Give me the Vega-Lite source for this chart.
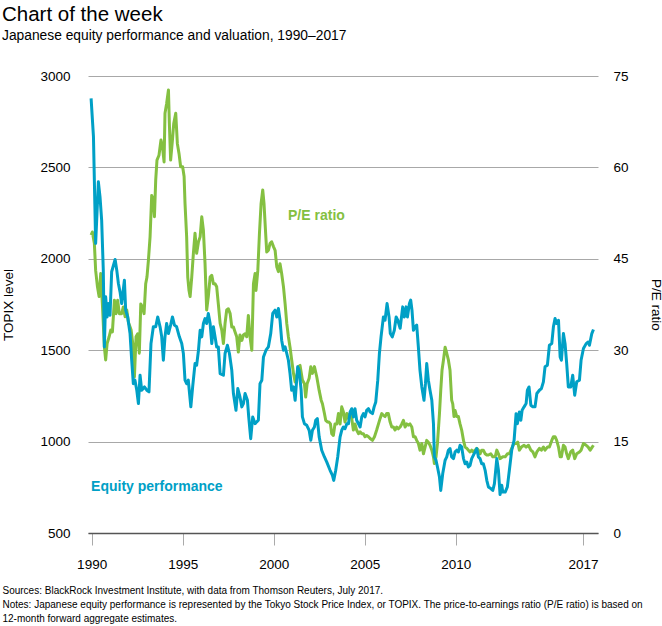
{
  "$schema": "https://vega.github.io/schema/vega-lite/v6.json",
  "width": 510,
  "height": 457,
  "autosize": {"type": "none"},
  "padding": {"left": 88, "top": 76, "right": 64, "bottom": 93},
  "background": "white",
  "config": {"font": "Liberation Sans", "view": {"stroke": null}},
  "title": {
    "text": "Chart of the week",
    "subtitle": "Japanese equity performance and valuation, 1990–2017",
    "anchor": "start",
    "frame": "group",
    "dx": -86,
    "fontSize": 20.5,
    "fontWeight": "normal",
    "color": "#000000",
    "subtitleFontSize": 13.8,
    "subtitleColor": "#000000",
    "subtitlePadding": 3.3,
    "offset": 26.6
  },
  "datasets": {
    "topix": [
      {"year": 1989.97, "value": 2878}, {"year": 1990.10, "value": 2668}, {"year": 1990.22, "value": 2084}, {"year": 1990.37, "value": 2421},
      {"year": 1990.46, "value": 2339}, {"year": 1990.55, "value": 2212}, {"year": 1990.64, "value": 1938}, {"year": 1990.70, "value": 1518},
      {"year": 1990.77, "value": 1792}, {"year": 1990.85, "value": 1682}, {"year": 1990.92, "value": 1755}, {"year": 1991.01, "value": 1691},
      {"year": 1991.10, "value": 1929}, {"year": 1991.29, "value": 1996}, {"year": 1991.38, "value": 1938}, {"year": 1991.47, "value": 1865},
      {"year": 1991.56, "value": 1819}, {"year": 1991.65, "value": 1755}, {"year": 1991.80, "value": 1883}, {"year": 1991.87, "value": 1719},
      {"year": 1991.98, "value": 1682}, {"year": 1992.11, "value": 1591}, {"year": 1992.20, "value": 1445}, {"year": 1992.29, "value": 1317},
      {"year": 1992.38, "value": 1336}, {"year": 1992.48, "value": 1281}, {"year": 1992.57, "value": 1208}, {"year": 1992.66, "value": 1363},
      {"year": 1992.75, "value": 1281}, {"year": 1992.90, "value": 1299}, {"year": 1993.03, "value": 1281}, {"year": 1993.15, "value": 1272},
      {"year": 1993.26, "value": 1536}, {"year": 1993.39, "value": 1628}, {"year": 1993.52, "value": 1628}, {"year": 1993.63, "value": 1682},
      {"year": 1993.76, "value": 1628}, {"year": 1993.85, "value": 1573}, {"year": 1993.94, "value": 1445}, {"year": 1994.03, "value": 1573},
      {"year": 1994.12, "value": 1646}, {"year": 1994.22, "value": 1591}, {"year": 1994.34, "value": 1637}, {"year": 1994.44, "value": 1682},
      {"year": 1994.55, "value": 1637}, {"year": 1994.67, "value": 1628}, {"year": 1994.82, "value": 1573}, {"year": 1994.95, "value": 1536},
      {"year": 1995.04, "value": 1482}, {"year": 1995.13, "value": 1336}, {"year": 1995.22, "value": 1317}, {"year": 1995.31, "value": 1336},
      {"year": 1995.38, "value": 1263}, {"year": 1995.45, "value": 1190}, {"year": 1995.55, "value": 1299}, {"year": 1995.68, "value": 1427},
      {"year": 1995.77, "value": 1418}, {"year": 1995.87, "value": 1500}, {"year": 1995.96, "value": 1609}, {"year": 1996.05, "value": 1573},
      {"year": 1996.14, "value": 1646}, {"year": 1996.23, "value": 1673}, {"year": 1996.32, "value": 1646}, {"year": 1996.41, "value": 1701},
      {"year": 1996.51, "value": 1646}, {"year": 1996.60, "value": 1536}, {"year": 1996.69, "value": 1628}, {"year": 1996.78, "value": 1573},
      {"year": 1996.87, "value": 1518}, {"year": 1996.96, "value": 1518}, {"year": 1997.06, "value": 1372}, {"year": 1997.24, "value": 1363},
      {"year": 1997.33, "value": 1482}, {"year": 1997.46, "value": 1527}, {"year": 1997.57, "value": 1482}, {"year": 1997.70, "value": 1390},
      {"year": 1997.79, "value": 1263}, {"year": 1997.93, "value": 1171}, {"year": 1998.03, "value": 1290}, {"year": 1998.15, "value": 1244},
      {"year": 1998.25, "value": 1190}, {"year": 1998.34, "value": 1208}, {"year": 1998.43, "value": 1263}, {"year": 1998.56, "value": 1226},
      {"year": 1998.63, "value": 1135}, {"year": 1998.74, "value": 1016}, {"year": 1998.85, "value": 1135}, {"year": 1998.98, "value": 1098},
      {"year": 1999.07, "value": 1108}, {"year": 1999.16, "value": 1117}, {"year": 1999.25, "value": 1317}, {"year": 1999.35, "value": 1336},
      {"year": 1999.44, "value": 1463}, {"year": 1999.58, "value": 1500}, {"year": 1999.71, "value": 1518}, {"year": 1999.84, "value": 1591},
      {"year": 1999.95, "value": 1701}, {"year": 2000.08, "value": 1719}, {"year": 2000.17, "value": 1682}, {"year": 2000.26, "value": 1728},
      {"year": 2000.35, "value": 1664}, {"year": 2000.44, "value": 1555}, {"year": 2000.54, "value": 1500}, {"year": 2000.63, "value": 1518},
      {"year": 2000.72, "value": 1482}, {"year": 2000.81, "value": 1445}, {"year": 2000.90, "value": 1372}, {"year": 2000.99, "value": 1281},
      {"year": 2001.09, "value": 1299}, {"year": 2001.18, "value": 1226}, {"year": 2001.32, "value": 1409}, {"year": 2001.40, "value": 1390},
      {"year": 2001.51, "value": 1281}, {"year": 2001.58, "value": 1135}, {"year": 2001.69, "value": 1098}, {"year": 2001.82, "value": 1089},
      {"year": 2001.95, "value": 1062}, {"year": 2002.04, "value": 1007}, {"year": 2002.13, "value": 1062}, {"year": 2002.24, "value": 1080},
      {"year": 2002.31, "value": 1117}, {"year": 2002.40, "value": 1126}, {"year": 2002.50, "value": 1026}, {"year": 2002.64, "value": 953},
      {"year": 2002.79, "value": 916}, {"year": 2002.92, "value": 888}, {"year": 2003.10, "value": 843}, {"year": 2003.23, "value": 815},
      {"year": 2003.30, "value": 788}, {"year": 2003.41, "value": 843}, {"year": 2003.52, "value": 916}, {"year": 2003.65, "value": 1026},
      {"year": 2003.74, "value": 1062}, {"year": 2003.83, "value": 1080}, {"year": 2003.92, "value": 1071}, {"year": 2004.02, "value": 1098},
      {"year": 2004.11, "value": 1098}, {"year": 2004.20, "value": 1162}, {"year": 2004.29, "value": 1180}, {"year": 2004.38, "value": 1135},
      {"year": 2004.47, "value": 1180}, {"year": 2004.56, "value": 1117}, {"year": 2004.66, "value": 1098}, {"year": 2004.75, "value": 1080},
      {"year": 2004.84, "value": 1135}, {"year": 2004.93, "value": 1153}, {"year": 2005.02, "value": 1135}, {"year": 2005.11, "value": 1171},
      {"year": 2005.21, "value": 1180}, {"year": 2005.30, "value": 1162}, {"year": 2005.43, "value": 1153}, {"year": 2005.52, "value": 1190},
      {"year": 2005.61, "value": 1217}, {"year": 2005.72, "value": 1336}, {"year": 2005.81, "value": 1482}, {"year": 2005.90, "value": 1573},
      {"year": 2006.03, "value": 1682}, {"year": 2006.12, "value": 1664}, {"year": 2006.23, "value": 1755}, {"year": 2006.34, "value": 1682},
      {"year": 2006.41, "value": 1591}, {"year": 2006.52, "value": 1573}, {"year": 2006.63, "value": 1609}, {"year": 2006.73, "value": 1682},
      {"year": 2006.82, "value": 1664}, {"year": 2006.95, "value": 1620}, {"year": 2007.09, "value": 1737}, {"year": 2007.18, "value": 1682},
      {"year": 2007.28, "value": 1737}, {"year": 2007.35, "value": 1682}, {"year": 2007.46, "value": 1755}, {"year": 2007.53, "value": 1774},
      {"year": 2007.60, "value": 1719}, {"year": 2007.68, "value": 1609}, {"year": 2007.77, "value": 1628}, {"year": 2007.86, "value": 1637},
      {"year": 2007.95, "value": 1518}, {"year": 2008.04, "value": 1390}, {"year": 2008.14, "value": 1299}, {"year": 2008.26, "value": 1226},
      {"year": 2008.34, "value": 1317}, {"year": 2008.41, "value": 1427}, {"year": 2008.50, "value": 1336}, {"year": 2008.59, "value": 1281},
      {"year": 2008.69, "value": 1226}, {"year": 2008.78, "value": 1098}, {"year": 2008.83, "value": 916}, {"year": 2008.92, "value": 898},
      {"year": 2009.00, "value": 861}, {"year": 2009.11, "value": 806}, {"year": 2009.18, "value": 733}, {"year": 2009.29, "value": 825},
      {"year": 2009.42, "value": 898}, {"year": 2009.51, "value": 916}, {"year": 2009.60, "value": 953}, {"year": 2009.69, "value": 962},
      {"year": 2009.78, "value": 916}, {"year": 2009.88, "value": 907}, {"year": 2009.97, "value": 944}, {"year": 2010.06, "value": 953},
      {"year": 2010.15, "value": 944}, {"year": 2010.24, "value": 980}, {"year": 2010.33, "value": 971}, {"year": 2010.43, "value": 907},
      {"year": 2010.52, "value": 879}, {"year": 2010.61, "value": 888}, {"year": 2010.70, "value": 861}, {"year": 2010.79, "value": 870},
      {"year": 2010.88, "value": 907}, {"year": 2010.97, "value": 925}, {"year": 2011.07, "value": 944}, {"year": 2011.16, "value": 962},
      {"year": 2011.25, "value": 916}, {"year": 2011.34, "value": 907}, {"year": 2011.43, "value": 879}, {"year": 2011.52, "value": 879},
      {"year": 2011.62, "value": 843}, {"year": 2011.71, "value": 788}, {"year": 2011.80, "value": 752}, {"year": 2011.93, "value": 743},
      {"year": 2012.04, "value": 733}, {"year": 2012.13, "value": 770}, {"year": 2012.26, "value": 907}, {"year": 2012.35, "value": 843},
      {"year": 2012.44, "value": 710}, {"year": 2012.53, "value": 761}, {"year": 2012.59, "value": 724}, {"year": 2012.72, "value": 724},
      {"year": 2012.84, "value": 752}, {"year": 2012.95, "value": 843}, {"year": 2013.08, "value": 953}, {"year": 2013.21, "value": 1007},
      {"year": 2013.32, "value": 1153}, {"year": 2013.39, "value": 1098}, {"year": 2013.50, "value": 1162}, {"year": 2013.58, "value": 1117},
      {"year": 2013.65, "value": 1171}, {"year": 2013.76, "value": 1190}, {"year": 2013.87, "value": 1208}, {"year": 2013.94, "value": 1281},
      {"year": 2014.03, "value": 1299}, {"year": 2014.13, "value": 1199}, {"year": 2014.24, "value": 1190}, {"year": 2014.36, "value": 1190},
      {"year": 2014.46, "value": 1263}, {"year": 2014.60, "value": 1281}, {"year": 2014.71, "value": 1290}, {"year": 2014.82, "value": 1327},
      {"year": 2014.91, "value": 1409}, {"year": 2015.04, "value": 1418}, {"year": 2015.15, "value": 1527}, {"year": 2015.28, "value": 1536},
      {"year": 2015.37, "value": 1628}, {"year": 2015.46, "value": 1673}, {"year": 2015.55, "value": 1646}, {"year": 2015.65, "value": 1664},
      {"year": 2015.74, "value": 1463}, {"year": 2015.81, "value": 1445}, {"year": 2015.92, "value": 1591}, {"year": 2016.01, "value": 1536},
      {"year": 2016.10, "value": 1427}, {"year": 2016.19, "value": 1299}, {"year": 2016.32, "value": 1299}, {"year": 2016.43, "value": 1363},
      {"year": 2016.54, "value": 1254}, {"year": 2016.65, "value": 1327}, {"year": 2016.80, "value": 1336}, {"year": 2016.89, "value": 1445},
      {"year": 2017.02, "value": 1509}, {"year": 2017.17, "value": 1536}, {"year": 2017.28, "value": 1545}, {"year": 2017.35, "value": 1527},
      {"year": 2017.48, "value": 1591}, {"year": 2017.57, "value": 1613}
    ],
    "pe": [
      {"year": 1989.97, "value": 48.9}, {"year": 1990.04, "value": 49.4}, {"year": 1990.15, "value": 47.5}, {"year": 1990.22, "value": 43.1},
      {"year": 1990.32, "value": 40.4}, {"year": 1990.41, "value": 38.8}, {"year": 1990.50, "value": 42.6}, {"year": 1990.59, "value": 37.6},
      {"year": 1990.70, "value": 30.5}, {"year": 1990.77, "value": 28.4}, {"year": 1990.85, "value": 31.1}, {"year": 1990.96, "value": 32.2},
      {"year": 1991.05, "value": 33.3}, {"year": 1991.14, "value": 33.0}, {"year": 1991.25, "value": 38.2}, {"year": 1991.34, "value": 36.0},
      {"year": 1991.43, "value": 38.2}, {"year": 1991.52, "value": 36.0}, {"year": 1991.65, "value": 36.0}, {"year": 1991.74, "value": 37.1},
      {"year": 1991.84, "value": 35.5}, {"year": 1991.93, "value": 36.6}, {"year": 1992.02, "value": 34.6}, {"year": 1992.17, "value": 33.3},
      {"year": 1992.26, "value": 31.1}, {"year": 1992.35, "value": 25.6}, {"year": 1992.44, "value": 32.2}, {"year": 1992.53, "value": 32.7},
      {"year": 1992.62, "value": 29.5}, {"year": 1992.70, "value": 37.6}, {"year": 1992.79, "value": 37.1}, {"year": 1992.88, "value": 36.0},
      {"year": 1992.97, "value": 40.9}, {"year": 1993.04, "value": 42.0}, {"year": 1993.12, "value": 44.8}, {"year": 1993.21, "value": 48.6},
      {"year": 1993.30, "value": 55.4}, {"year": 1993.39, "value": 54.6}, {"year": 1993.45, "value": 51.9}, {"year": 1993.52, "value": 57.9},
      {"year": 1993.59, "value": 61.2}, {"year": 1993.70, "value": 62.0}, {"year": 1993.81, "value": 64.5}, {"year": 1993.89, "value": 63.4},
      {"year": 1993.98, "value": 60.9}, {"year": 1994.03, "value": 68.9}, {"year": 1994.12, "value": 70.5}, {"year": 1994.22, "value": 72.7},
      {"year": 1994.27, "value": 67.2}, {"year": 1994.34, "value": 61.2}, {"year": 1994.44, "value": 64.5}, {"year": 1994.51, "value": 67.2},
      {"year": 1994.62, "value": 68.9}, {"year": 1994.71, "value": 63.9}, {"year": 1994.80, "value": 62.3}, {"year": 1994.89, "value": 60.1},
      {"year": 1995.00, "value": 60.1}, {"year": 1995.08, "value": 58.5}, {"year": 1995.13, "value": 54.1}, {"year": 1995.22, "value": 48.6},
      {"year": 1995.28, "value": 42.0}, {"year": 1995.35, "value": 39.8}, {"year": 1995.41, "value": 38.8}, {"year": 1995.50, "value": 42.0},
      {"year": 1995.59, "value": 45.9}, {"year": 1995.68, "value": 49.2}, {"year": 1995.77, "value": 45.9}, {"year": 1995.87, "value": 47.8},
      {"year": 1995.96, "value": 48.6}, {"year": 1996.05, "value": 51.9}, {"year": 1996.14, "value": 49.7}, {"year": 1996.23, "value": 44.2},
      {"year": 1996.32, "value": 36.6}, {"year": 1996.41, "value": 38.8}, {"year": 1996.51, "value": 42.0}, {"year": 1996.60, "value": 42.3},
      {"year": 1996.69, "value": 40.9}, {"year": 1996.78, "value": 40.9}, {"year": 1996.87, "value": 40.4}, {"year": 1996.96, "value": 37.6},
      {"year": 1997.06, "value": 34.4}, {"year": 1997.15, "value": 33.3}, {"year": 1997.24, "value": 31.1}, {"year": 1997.33, "value": 34.4},
      {"year": 1997.42, "value": 36.6}, {"year": 1997.51, "value": 36.8}, {"year": 1997.61, "value": 36.0}, {"year": 1997.70, "value": 33.8},
      {"year": 1997.79, "value": 33.8}, {"year": 1997.88, "value": 33.0}, {"year": 1997.97, "value": 32.2}, {"year": 1998.06, "value": 29.7},
      {"year": 1998.15, "value": 32.5}, {"year": 1998.25, "value": 31.6}, {"year": 1998.34, "value": 32.5}, {"year": 1998.43, "value": 32.7},
      {"year": 1998.52, "value": 32.2}, {"year": 1998.61, "value": 35.7}, {"year": 1998.70, "value": 32.2}, {"year": 1998.80, "value": 30.0},
      {"year": 1998.89, "value": 40.9}, {"year": 1998.98, "value": 42.6}, {"year": 1999.03, "value": 39.8}, {"year": 1999.13, "value": 43.1},
      {"year": 1999.22, "value": 49.2}, {"year": 1999.31, "value": 54.1}, {"year": 1999.40, "value": 56.3}, {"year": 1999.47, "value": 54.1},
      {"year": 1999.55, "value": 49.7}, {"year": 1999.62, "value": 46.1}, {"year": 1999.71, "value": 46.4}, {"year": 1999.80, "value": 47.5},
      {"year": 1999.89, "value": 47.8}, {"year": 1999.99, "value": 47.0}, {"year": 2000.08, "value": 46.4}, {"year": 2000.17, "value": 43.7},
      {"year": 2000.26, "value": 42.9}, {"year": 2000.35, "value": 44.2}, {"year": 2000.44, "value": 42.6}, {"year": 2000.54, "value": 40.4},
      {"year": 2000.63, "value": 37.6}, {"year": 2000.72, "value": 34.4}, {"year": 2000.81, "value": 32.2}, {"year": 2000.90, "value": 30.5},
      {"year": 2000.99, "value": 28.4}, {"year": 2001.09, "value": 26.2}, {"year": 2001.18, "value": 24.8}, {"year": 2001.27, "value": 25.6},
      {"year": 2001.36, "value": 27.3}, {"year": 2001.45, "value": 27.5}, {"year": 2001.58, "value": 25.1}, {"year": 2001.69, "value": 24.5},
      {"year": 2001.76, "value": 22.3}, {"year": 2001.84, "value": 24.5}, {"year": 2001.95, "value": 25.4}, {"year": 2002.04, "value": 27.3},
      {"year": 2002.13, "value": 26.2}, {"year": 2002.24, "value": 27.3}, {"year": 2002.37, "value": 25.6}, {"year": 2002.50, "value": 23.4},
      {"year": 2002.61, "value": 21.8}, {"year": 2002.68, "value": 21.2}, {"year": 2002.79, "value": 19.6}, {"year": 2002.86, "value": 18.5},
      {"year": 2002.97, "value": 18.2}, {"year": 2003.04, "value": 18.2}, {"year": 2003.12, "value": 17.9}, {"year": 2003.19, "value": 16.3},
      {"year": 2003.28, "value": 16.0}, {"year": 2003.37, "value": 17.9}, {"year": 2003.47, "value": 17.9}, {"year": 2003.56, "value": 19.6},
      {"year": 2003.65, "value": 17.9}, {"year": 2003.74, "value": 20.7}, {"year": 2003.83, "value": 19.9}, {"year": 2003.92, "value": 18.2},
      {"year": 2004.02, "value": 19.6}, {"year": 2004.11, "value": 18.8}, {"year": 2004.20, "value": 19.6}, {"year": 2004.29, "value": 18.8},
      {"year": 2004.38, "value": 16.9}, {"year": 2004.47, "value": 17.9}, {"year": 2004.56, "value": 16.9}, {"year": 2004.66, "value": 16.3},
      {"year": 2004.75, "value": 16.6}, {"year": 2004.84, "value": 16.3}, {"year": 2004.93, "value": 16.3}, {"year": 2005.02, "value": 15.8},
      {"year": 2005.11, "value": 16.0}, {"year": 2005.21, "value": 15.8}, {"year": 2005.30, "value": 15.5}, {"year": 2005.43, "value": 15.2},
      {"year": 2005.54, "value": 15.8}, {"year": 2005.66, "value": 16.9}, {"year": 2005.76, "value": 17.9}, {"year": 2005.85, "value": 18.8},
      {"year": 2005.94, "value": 19.6}, {"year": 2006.03, "value": 19.3}, {"year": 2006.12, "value": 19.1}, {"year": 2006.21, "value": 19.6},
      {"year": 2006.30, "value": 19.6}, {"year": 2006.40, "value": 18.2}, {"year": 2006.49, "value": 17.4}, {"year": 2006.58, "value": 17.4},
      {"year": 2006.67, "value": 16.9}, {"year": 2006.76, "value": 17.4}, {"year": 2006.85, "value": 17.1}, {"year": 2006.95, "value": 17.4},
      {"year": 2007.04, "value": 17.9}, {"year": 2007.13, "value": 18.5}, {"year": 2007.22, "value": 17.4}, {"year": 2007.31, "value": 17.9},
      {"year": 2007.40, "value": 17.7}, {"year": 2007.49, "value": 17.9}, {"year": 2007.59, "value": 17.4}, {"year": 2007.68, "value": 15.8},
      {"year": 2007.77, "value": 15.8}, {"year": 2007.86, "value": 15.2}, {"year": 2007.95, "value": 14.7}, {"year": 2008.04, "value": 13.6},
      {"year": 2008.14, "value": 14.7}, {"year": 2008.23, "value": 13.0}, {"year": 2008.32, "value": 14.1}, {"year": 2008.41, "value": 15.2},
      {"year": 2008.50, "value": 14.9}, {"year": 2008.59, "value": 14.4}, {"year": 2008.69, "value": 13.6}, {"year": 2008.78, "value": 12.5},
      {"year": 2008.83, "value": 11.4}, {"year": 2008.92, "value": 12.5}, {"year": 2009.00, "value": 14.7}, {"year": 2009.11, "value": 19.6},
      {"year": 2009.18, "value": 23.4}, {"year": 2009.25, "value": 26.7}, {"year": 2009.33, "value": 28.4}, {"year": 2009.42, "value": 30.5},
      {"year": 2009.51, "value": 29.5}, {"year": 2009.60, "value": 28.4}, {"year": 2009.69, "value": 26.7}, {"year": 2009.78, "value": 21.8},
      {"year": 2009.84, "value": 21.2}, {"year": 2009.91, "value": 19.1}, {"year": 2009.97, "value": 20.1}, {"year": 2010.06, "value": 19.1},
      {"year": 2010.15, "value": 19.1}, {"year": 2010.24, "value": 17.9}, {"year": 2010.33, "value": 16.9}, {"year": 2010.43, "value": 15.2},
      {"year": 2010.52, "value": 14.1}, {"year": 2010.61, "value": 13.9}, {"year": 2010.70, "value": 13.6}, {"year": 2010.79, "value": 13.3},
      {"year": 2010.88, "value": 13.6}, {"year": 2010.97, "value": 13.3}, {"year": 2011.07, "value": 13.6}, {"year": 2011.16, "value": 13.9},
      {"year": 2011.25, "value": 13.6}, {"year": 2011.34, "value": 13.0}, {"year": 2011.43, "value": 13.6}, {"year": 2011.52, "value": 13.6},
      {"year": 2011.62, "value": 13.0}, {"year": 2011.71, "value": 12.8}, {"year": 2011.80, "value": 12.8}, {"year": 2011.93, "value": 13.0},
      {"year": 2012.04, "value": 12.5}, {"year": 2012.17, "value": 12.5}, {"year": 2012.26, "value": 13.6}, {"year": 2012.35, "value": 13.0},
      {"year": 2012.44, "value": 12.2}, {"year": 2012.59, "value": 12.5}, {"year": 2012.72, "value": 12.5}, {"year": 2012.84, "value": 13.0},
      {"year": 2012.95, "value": 13.0}, {"year": 2013.08, "value": 13.9}, {"year": 2013.21, "value": 14.7}, {"year": 2013.32, "value": 14.7},
      {"year": 2013.41, "value": 14.9}, {"year": 2013.50, "value": 13.6}, {"year": 2013.61, "value": 14.1}, {"year": 2013.76, "value": 14.4},
      {"year": 2013.87, "value": 14.1}, {"year": 2014.00, "value": 14.4}, {"year": 2014.13, "value": 13.6}, {"year": 2014.24, "value": 13.3},
      {"year": 2014.36, "value": 12.5}, {"year": 2014.46, "value": 13.3}, {"year": 2014.60, "value": 13.9}, {"year": 2014.71, "value": 13.6},
      {"year": 2014.82, "value": 14.1}, {"year": 2014.91, "value": 13.6}, {"year": 2015.04, "value": 14.1}, {"year": 2015.15, "value": 14.1},
      {"year": 2015.28, "value": 15.2}, {"year": 2015.37, "value": 15.8}, {"year": 2015.46, "value": 15.8}, {"year": 2015.55, "value": 15.2},
      {"year": 2015.65, "value": 14.1}, {"year": 2015.74, "value": 12.5}, {"year": 2015.81, "value": 12.5}, {"year": 2015.92, "value": 14.4},
      {"year": 2016.01, "value": 14.1}, {"year": 2016.10, "value": 13.0}, {"year": 2016.19, "value": 12.2}, {"year": 2016.32, "value": 13.3},
      {"year": 2016.43, "value": 13.6}, {"year": 2016.54, "value": 12.2}, {"year": 2016.65, "value": 13.0}, {"year": 2016.80, "value": 13.3},
      {"year": 2016.89, "value": 13.6}, {"year": 2017.02, "value": 14.7}, {"year": 2017.17, "value": 14.4}, {"year": 2017.28, "value": 14.1},
      {"year": 2017.39, "value": 13.6}, {"year": 2017.50, "value": 14.1}, {"year": 2017.57, "value": 14.4}
    ],
    "peLabel": [{"year": 2000.79, "value": 52.1, "label": "P/E ratio"}],
    "topixLabel": [{"year": 1989.97, "value": 750, "label": "Equity performance"}]
  },
  "encoding": {
    "x": {
      "field": "year",
      "type": "quantitative",
      "scale": {"domain": [1989.8, 2017.82], "nice": false, "zero": false},
      "axis": {
        "values": [1990, 1995, 2000, 2005, 2010, 2017],
        "format": "d",
        "grid": false,
        "domainColor": "#555555",
        "domainWidth": 1.5,
        "tickColor": "#aaaaaa",
        "tickSize": 12,
        "labelPadding": 12,
        "labelFontSize": 13.5,
        "labelColor": "#000000",
        "title": [
          "Sources: BlackRock Investment Institute, with data from Thomson Reuters, July 2017.",
          "Notes: Japanese equity performance is represented by the Tokyo Stock Price Index, or TOPIX. The price-to-earnings ratio (P/E ratio) is based on",
          "12-month forward aggregate estimates."
        ],
        "titleFontSize": 10,
        "titleFontWeight": "normal",
        "titleColor": "#000000",
        "titleAnchor": "start",
        "titleAlign": "left",
        "titleBaseline": "alphabetic",
        "titleX": -86,
        "titleY": 60,
        "titleLineHeight": 14
      }
    }
  },
  "layer": [
    {
      "encoding": {
        "y": {
          "field": "value",
          "type": "quantitative",
          "scale": {"domain": [0, 75], "nice": false, "zero": false},
          "axis": {
            "orient": "right",
            "values": [0, 15, 30, 45, 60, 75],
            "format": "d",
            "grid": false,
            "domain": false,
            "ticks": false,
            "tickSize": 0,
            "labelPadding": 15,
            "labelFontSize": 13.5,
            "labelColor": "#000000",
            "title": "P/E ratio",
            "titleFontSize": 13.5,
            "titleFontWeight": "normal",
            "titleColor": "#000000",
            "titleX": 57,
            "titleY": 228.5,
            "titleBaseline": "middle"
          }
        }
      },
      "layer": [
        {
          "data": {"name": "pe"},
          "mark": {"type": "line", "color": "#84c041", "strokeWidth": 3, "strokeJoin": "round"}
        },
        {
          "data": {"name": "peLabel"},
          "mark": {"type": "text", "color": "#84c041", "fontSize": 14, "fontWeight": "bold", "align": "left", "baseline": "middle"},
          "encoding": {"text": {"field": "label"}}
        }
      ]
    },
    {
      "encoding": {
        "y": {
          "field": "value",
          "type": "quantitative",
          "scale": {"domain": [500, 3000], "nice": false, "zero": false},
          "axis": {
            "orient": "left",
            "values": [500, 1000, 1500, 2000, 2500, 3000],
            "format": "d",
            "grid": true,
            "gridColor": "#a8a8a8",
            "gridWidth": 1,
            "domain": false,
            "ticks": false,
            "tickSize": 0,
            "labelPadding": 18,
            "labelFontSize": 13.5,
            "labelColor": "#000000",
            "title": "TOPIX level",
            "titleFontSize": 13.5,
            "titleFontWeight": "normal",
            "titleColor": "#000000",
            "titleX": -80,
            "titleY": 228.5,
            "titleBaseline": "middle"
          }
        }
      },
      "layer": [
        {
          "data": {"name": "topix"},
          "mark": {"type": "line", "color": "#00a0c6", "strokeWidth": 3, "strokeJoin": "round"}
        },
        {
          "data": {"name": "topixLabel"},
          "mark": {"type": "text", "color": "#00a0c6", "fontSize": 14, "fontWeight": "bold", "align": "left", "baseline": "middle"},
          "encoding": {"text": {"field": "label"}}
        }
      ]
    }
  ],
  "resolve": {"scale": {"y": "independent"}, "axis": {"y": "independent"}}
}
